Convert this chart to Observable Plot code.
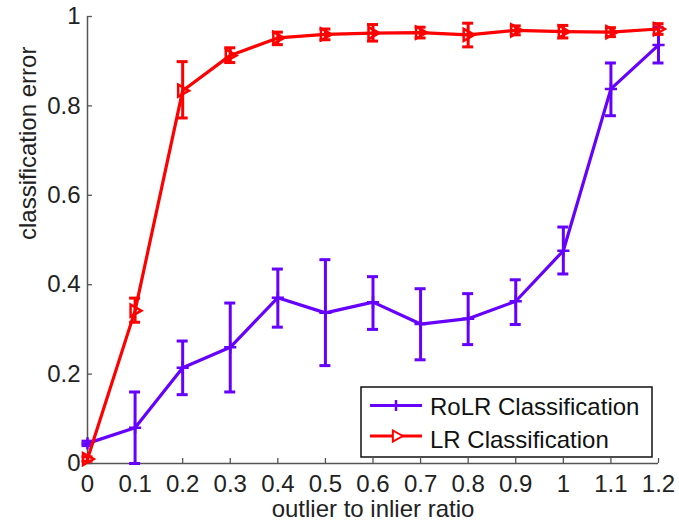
<!DOCTYPE html>
<html>
<head>
<meta charset="utf-8">
<script src="https://cdn.jsdelivr.net/npm/d3@7"></script>
<script src="https://cdn.jsdelivr.net/npm/@observablehq/plot@0.6"></script>
<style>
  html, body { margin: 0; padding: 0; background: #fff; }
  #chart { width: 679px; height: 521px; }
</style>
</head>
<body>
<div id="chart"></div>
<script>
const ratios = [0, 0.1, 0.2, 0.3, 0.4, 0.5, 0.6, 0.7, 0.8, 0.9, 1.0, 1.1, 1.2];
const rolr     = [0.045, 0.08, 0.214, 0.26, 0.371, 0.337, 0.361, 0.312, 0.324, 0.363, 0.476, 0.838, 0.936];
const rolrLow  = [0.04, 0.0, 0.154, 0.16, 0.305, 0.219, 0.30, 0.232, 0.266, 0.311, 0.424, 0.778, 0.896];
const rolrHigh = [0.05, 0.16, 0.274, 0.359, 0.435, 0.456, 0.418, 0.391, 0.38, 0.411, 0.529, 0.896, 0.976];
const lr       = [0.01, 0.342, 0.834, 0.913, 0.952, 0.96, 0.963, 0.964, 0.959, 0.969, 0.966, 0.965, 0.972];
const lrLow    = [0.005, 0.316, 0.773, 0.897, 0.937, 0.948, 0.945, 0.952, 0.932, 0.959, 0.952, 0.955, 0.96];
const lrHigh   = [0.015, 0.37, 0.899, 0.93, 0.965, 0.972, 0.982, 0.976, 0.985, 0.979, 0.98, 0.975, 0.984];
const xTicks = [0, 0.1, 0.2, 0.3, 0.4, 0.5, 0.6, 0.7, 0.8, 0.9, 1, 1.1, 1.2];
const yTicks = [0, 0.2, 0.4, 0.6, 0.8, 1];
const seriesNames = ["RoLR Classification", "LR Classification"];
const xTitle = "outlier to inlier ratio";
const yTitle = "classification error";

const PURPLE = "#6600ff";
const RED = "#ff0000";
const FONT = "'Liberation Sans', Arial, Helvetica, sans-serif";

const rolrData = ratios.map((x, i) => ({x, y: rolr[i], lo: rolrLow[i], hi: rolrHigh[i]}));
const lrData = ratios.map((x, i) => ({x, y: lr[i], lo: lrLow[i], hi: lrHigh[i]}));

const triangleRight = {
  draw(context, size) {
    const s = Math.sqrt(size / Math.PI);
    context.moveTo(-s * 0.75, -s);
    context.lineTo(s * 1.05, 0);
    context.lineTo(-s * 0.75, s);
    context.closePath();
  }
};

function seriesMarks(data, color, markOpts) {
  return [
    Plot.line(data, {x: "x", y: "y", stroke: color, strokeWidth: 3.2}),
    Plot.ruleX(data, {x: "x", y1: "lo", y2: "hi", stroke: color, strokeWidth: 3}),
    Plot.ruleY(data, {x1: "x", x2: "x", y: "lo", stroke: color, strokeWidth: 3, insetLeft: -5.5, insetRight: -5.5}),
    Plot.ruleY(data, {x1: "x", x2: "x", y: "hi", stroke: color, strokeWidth: 3, insetLeft: -5.5, insetRight: -5.5}),
    Plot.dot(data, {x: "x", y: "y", ...markOpts})
  ];
}

const plot = Plot.plot({
  width: 679,
  height: 521,
  marginLeft: 87,
  marginRight: 21,
  marginTop: 16,
  marginBottom: 58,
  style: {fontFamily: FONT, fontSize: "24px", color: "#222", background: "#fff"},
  x: {domain: [0, 1.2], label: null},
  y: {domain: [0, 1], label: null},
  marks: [
    Plot.axisX({ticks: xTicks, tickSize: 0, tickPadding: 11, tickFormat: d => String(d), fontSize: 24, label: null}),
    Plot.axisY({ticks: yTicks, tickSize: 0, tickPadding: 7, tickFormat: d => String(d), fontSize: 24, label: null}),
    Plot.axisX({ticks: xTicks, tickSize: 5, dy: -5, tickFormat: () => "", stroke: "#555", strokeWidth: 1.3, label: null}),
    Plot.axisY({ticks: yTicks, tickSize: 5, dx: 5, tickFormat: () => "", stroke: "#555", strokeWidth: 1.3, label: null}),
    Plot.ruleX([0], {stroke: "#555", strokeWidth: 1.5}),
    Plot.ruleY([0], {stroke: "#555", strokeWidth: 1.5}),
    ...seriesMarks(rolrData, PURPLE, {symbol: "plus", r: 4, stroke: PURPLE, strokeWidth: 2.5}),
    ...seriesMarks(lrData, RED, {symbol: triangleRight, r: 6, stroke: RED, fill: "none", strokeWidth: 2.5}),
    Plot.text([xTitle], {frameAnchor: "bottom", dy: 46, fontSize: 24, fill: "#222", lineAnchor: "middle"}),
    Plot.text([yTitle], {frameAnchor: "left", dx: -59, rotate: -90, fontSize: 24, fill: "#222", lineAnchor: "middle"})
  ]
});

document.getElementById("chart").appendChild(plot);

// Legend (inside the plot area, lower right)
const svg = d3.select(plot);
const lg = svg.append("g").attr("font-family", FONT).attr("font-size", 24).attr("fill", "#111")
  .attr("text-anchor", "start");
lg.append("rect").attr("x", 361).attr("y", 387).attr("width", 291).attr("height", 70)
  .attr("fill", "#fff").attr("stroke", "#111").attr("stroke-width", 1.5);
const entries = [
  {name: seriesNames[0], color: PURPLE, y: 405.5, baseline: 415},
  {name: seriesNames[1], color: RED, y: 436, baseline: 448}
];
entries.forEach((e, i) => {
  lg.append("line").attr("x1", 370).attr("x2", 422).attr("y1", e.y).attr("y2", e.y)
    .attr("stroke", e.color).attr("stroke-width", 3.2);
  if (i === 0) {
    lg.append("path").attr("d", d3.symbol(d3.symbolPlus, 40)()).attr("transform", `translate(396,${e.y})`)
      .attr("fill", "none").attr("stroke", e.color).attr("stroke-width", 2.5);
  } else {
    lg.append("path").attr("d", d3.symbol(triangleRight, Math.PI * 5.5 * 5.5)()).attr("transform", `translate(397,${e.y})`)
      .attr("fill", "#fff").attr("stroke", e.color).attr("stroke-width", 2);
  }
  lg.append("text").attr("x", 430).attr("y", e.baseline).attr("text-anchor", "start").text(e.name);
});
</script>
</body>
</html>
